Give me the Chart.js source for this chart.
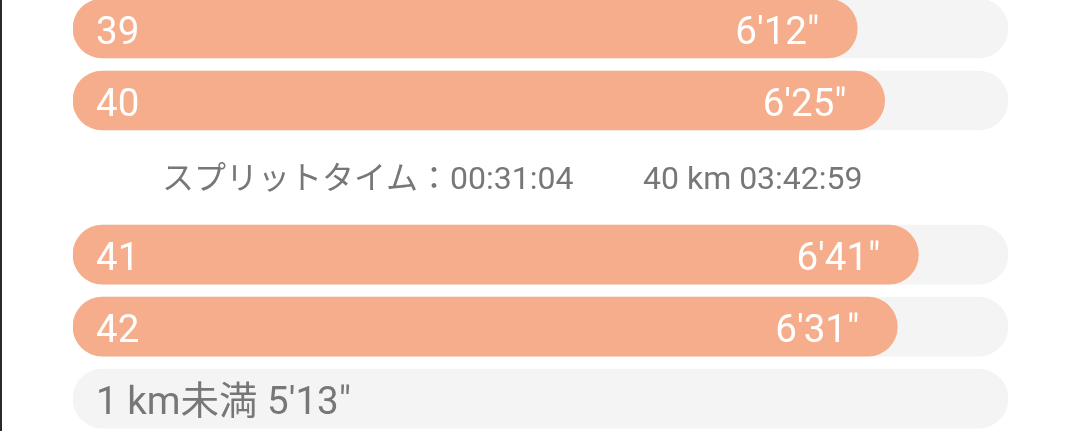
<!DOCTYPE html>
<html>
<head>
<meta charset="utf-8">
<script src="https://cdn.jsdelivr.net/npm/chart.js@4"></script>
<style>
  html, body { margin: 0; padding: 0; background: #fff; }
  #wrap { position: relative; width: 1080px; height: 431px; }
  #edge { position: absolute; left: 0; top: 0; width: 2px; height: 431px; background: #2a2a2a; }
</style>
</head>
<body>
<div id="wrap">
  <canvas id="splits" width="1080" height="431"></canvas>
  <div id="edge"></div>
</div>
<script>
// km rows as shown (the last one is the leftover part of a km)
var kmLabels    = ['39', '40', '41', '42', '1 km未満'];
var paceSeconds = [372, 385, 401, 391, 313];
var partialKm   = [false, false, false, false, true];

// split line shown after km 40
var splitAfter = 1;
var splitTime  = 'スプリットタイム：00:31:04';
var splitTotal = '40 km 03:42:59';

var PACE_MAX    = 443.5;   // pace that fills the whole grey track
var SPLIT_EXTRA = 1.14;    // extra row height taken by the split line
var FONT        = 'Roboto, "Noto Sans CJK JP", sans-serif';
var ORANGE      = '#f6ad8b';
var TRACK       = '#f4f4f4';
var GREY_TEXT   = '#777777';

function paceText(sec) {
  var m = Math.floor(sec / 60), s = sec % 60;
  return m + "'" + (s < 10 ? '0' + s : s) + '"';
}

function rowPos(i) {
  return i + (i > splitAfter ? SPLIT_EXTRA : 0);
}

var barData = [], trackData = [];
for (var i = 0; i < kmLabels.length; i++) {
  barData.push({ x: partialKm[i] ? null : paceSeconds[i], y: rowPos(i) });
  trackData.push({ x: PACE_MAX, y: rowPos(i) });
}

var splitLabels = {
  id: 'splitLabels',
  afterDatasetsDraw: function(chart) {
    var ctx = chart.ctx;
    var area = chart.chartArea;
    var yScale = chart.scales.y;
    var bars = chart.getDatasetMeta(0).data;
    var tracks = chart.getDatasetMeta(1).data;

    ctx.save();
    ctx.textBaseline = 'alphabetic';
    ctx.font = '38.5px ' + FONT;

    for (var i = 0; i < kmLabels.length; i++) {
      var cy = tracks[i].y;
      if (partialKm[i]) {
        ctx.fillStyle = GREY_TEXT;
        ctx.textAlign = 'left';
        ctx.fillText(kmLabels[i] + ' ' + paceText(paceSeconds[i]), area.left + 23, cy + 15);
      } else {
        ctx.fillStyle = '#ffffff';
        ctx.textAlign = 'left';
        ctx.fillText(kmLabels[i], area.left + 23, cy + 15);
        ctx.textAlign = 'right';
        ctx.fillText(paceText(paceSeconds[i]), bars[i].x - 38, cy + 15);
      }
    }

    // split line between the rows
    var sy = yScale.getPixelForValue(splitAfter + (1 + SPLIT_EXTRA) / 2);
    ctx.font = '32px ' + FONT;
    ctx.fillStyle = GREY_TEXT;
    ctx.textAlign = 'left';
    ctx.fillText(splitTime, area.left + 89, sy + 11);
    ctx.fillText(splitTotal, area.left + 570, sy + 11);
    ctx.restore();
  }
};

new Chart(document.getElementById('splits'), {
  type: 'bar',
  data: {
    datasets: [
      {
        data: barData,
        backgroundColor: ORANGE,
        borderRadius: 30,
        borderSkipped: false,
        barThickness: 59,
        grouped: false,
        order: 0
      },
      {
        data: trackData,
        backgroundColor: TRACK,
        borderRadius: 30,
        borderSkipped: false,
        barThickness: 59,
        grouped: false,
        order: 1
      }
    ]
  },
  options: {
    indexAxis: 'y',
    responsive: false,
    animation: false,
    layout: { padding: { left: 73, right: 72, top: 0, bottom: 0 } },
    scales: {
      x: { type: 'linear', min: 0, max: PACE_MAX, display: false },
      y: { type: 'linear', offset: false, reverse: true, min: -28.5 / 72, max: (431 - 28.5) / 72, display: false }
    },
    plugins: {
      legend: { display: false },
      tooltip: { enabled: false }
    }
  },
  plugins: [splitLabels]
});
</script>
</body>
</html>
